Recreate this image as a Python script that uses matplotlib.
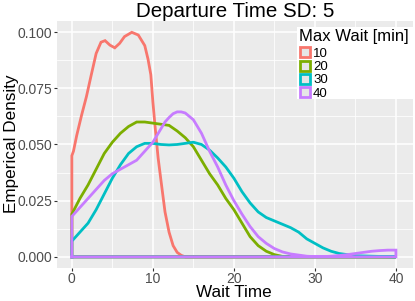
import matplotlib
matplotlib.use("Agg")
import matplotlib.pyplot as plt
from matplotlib.patches import Rectangle
from matplotlib.ticker import MultipleLocator

plt.rcParams["font.family"] = ["Liberation Sans", "DejaVu Sans"]

# density curves (x = wait time, y = density)
red_x = [0, 0.2, 0.6, 1.2, 1.8, 2.4, 3.0, 3.6, 4.1, 4.7, 5.3, 5.9, 6.5, 7.4,
         8.2, 9.0, 9.4, 9.75, 10.0, 10.3, 10.65, 11.0, 11.5, 12.0, 12.5,
         13.0, 13.5, 14.0, 40]
red_y = [0.045, 0.047, 0.054, 0.063, 0.0713, 0.081, 0.0905, 0.0955, 0.0962,
         0.0942, 0.093, 0.095, 0.098, 0.0999, 0.0987, 0.094, 0.088, 0.081,
         0.069, 0.057, 0.044, 0.034, 0.020, 0.011, 0.005, 0.002, 0.0007, 0.0,
         0.0]

green_x = [0, 1, 2, 3, 4, 5, 6, 7, 8, 9, 10, 11, 12, 13, 14, 15, 16, 17, 18,
           19, 20, 21, 22, 23, 24, 25, 26, 40]
green_y = [0.019, 0.026, 0.032, 0.039, 0.046, 0.051, 0.055, 0.058, 0.060,
           0.060, 0.0595, 0.059, 0.0585, 0.056, 0.053, 0.049, 0.043, 0.037,
           0.032, 0.026, 0.021, 0.015, 0.009, 0.005, 0.0025, 0.001, 0.0002, 0]

cyan_x = [0, 1, 2, 3, 4, 5, 6, 7, 8, 9, 10, 11, 12, 13, 14, 15, 16, 17, 18,
          19, 20, 21, 22, 23, 24, 25, 26, 27, 28, 29, 30, 31, 32, 33, 34, 35,
          40]
cyan_y = [0.007, 0.011, 0.015, 0.021, 0.028, 0.035, 0.041, 0.046, 0.049,
          0.0505, 0.0505, 0.050, 0.0498, 0.050, 0.0505, 0.051, 0.050, 0.0475,
          0.044, 0.040, 0.035, 0.029, 0.024, 0.020, 0.0175, 0.016, 0.0145,
          0.013, 0.011, 0.008, 0.006, 0.004, 0.0025, 0.0015, 0.001, 0.0005, 0]

purple_x = [0, 1, 2, 3, 4, 5, 6, 7, 8, 9, 10, 10.5, 11, 11.5, 12, 12.5, 13,
            13.5, 14, 14.5, 15, 16, 17, 18, 19, 20, 21, 22, 23, 24, 25, 26,
            27, 28, 29, 30, 31, 32, 33, 34, 35, 36, 37, 38, 39, 40]
purple_y = [0.018, 0.022, 0.026, 0.030, 0.034, 0.037, 0.039, 0.041, 0.043,
            0.047, 0.051, 0.054, 0.057, 0.060, 0.062, 0.0637, 0.0645, 0.0645,
            0.064, 0.0625, 0.061, 0.055, 0.047, 0.040, 0.032, 0.025, 0.019,
            0.0135, 0.009, 0.006, 0.0037, 0.0022, 0.0013, 0.0008, 0.0003,
            0.0001, 0.0001, 0.0003, 0.0006, 0.001, 0.0015, 0.002, 0.0025,
            0.0028, 0.003, 0.003]

labels = ["10", "20", "30", "40"]
colors = ["#F8766D", "#7CAE00", "#00BFC4", "#C77CFF"]
series = [(red_x, red_y), (green_x, green_y), (cyan_x, cyan_y),
          (purple_x, purple_y)]

W, H = 415, 301


def fx(px):
    return px / W


def fy(py):
    return 1 - py / H


fig = plt.figure(figsize=(W / 100, H / 100), dpi=100)
ax = fig.add_axes([0.137, 0.110, 0.858, 0.820])
ax.set_facecolor("#EBEBEB")

for (xs, ys), col in zip(series, colors):
    # closed outline like geom_density
    ox = [xs[0]] + list(xs) + [xs[-1], xs[0]]
    oy = [0] + list(ys) + [0, 0]
    ax.plot(ox, oy, color=col, lw=2.0, solid_joinstyle="miter", zorder=3)

ax.set_xlim(-1.85, 42.1)
ax.set_ylim(-0.0049, 0.1049)
ax.xaxis.set_major_locator(MultipleLocator(10))
ax.xaxis.set_minor_locator(MultipleLocator(5))
ax.yaxis.set_minor_locator(MultipleLocator(0.0125))
ax.set_yticks([0, 0.025, 0.05, 0.075, 0.1])
ax.set_yticklabels(["0.000", "0.025", "0.050", "0.075", "0.100"])
ax.grid(which="major", color="white", lw=1.1)
ax.grid(which="minor", color="white", lw=0.55)
ax.set_axisbelow(True)
for s in ax.spines.values():
    s.set_visible(False)
ax.tick_params(which="major", length=2.5, color="#333333", labelsize=10,
               labelcolor="#4D4D4D", pad=0.8)
ax.tick_params(which="minor", length=0)

fig.text(fx(235), fy(17), "Departure Time SD: 5", fontsize=14.8,
         ha="center", va="baseline")
fig.text(fx(233.5), fy(297), "Wait Time", fontsize=12.3,
         ha="center", va="baseline")
fig.text(fx(12), fy(144), "Emperical Density", fontsize=12.3,
         rotation=90, ha="center", va="center")

# legend drawn by hand (ggplot style, inside the panel)
fig.add_artist(Rectangle((fx(297), fy(99)), fx(413) - fx(297),
                         fy(27) - fy(99), transform=fig.transFigure,
                         facecolor="white", edgecolor="none", zorder=5))
fig.text(fx(299), fy(41), "Max Wait [min]", fontsize=12, ha="left",
         va="baseline", zorder=6)
for i, (lab, col) in enumerate(zip(labels, colors)):
    cy = 52.3 + i * 13.2
    fig.add_artist(Rectangle((fx(300), fy(cy + 5)), fx(10), fy(0) - fy(10),
                             transform=fig.transFigure, facecolor="#E6E6E6",
                             edgecolor=col, lw=2, zorder=6))
    fig.text(fx(313), fy(cy + 0.3), lab, fontsize=9.5, ha="left",
             va="center_baseline", zorder=6)

fig.savefig("out.png", dpi=100)
